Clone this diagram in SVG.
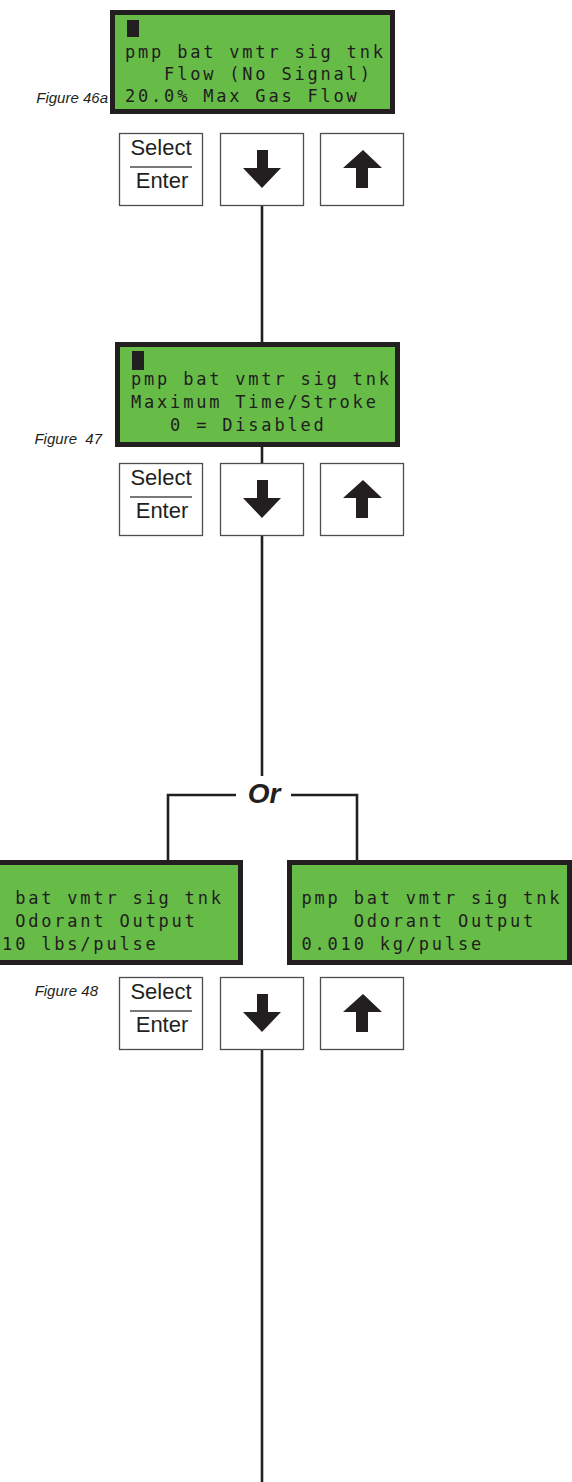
<svg xmlns="http://www.w3.org/2000/svg" width="572" height="1482" viewBox="0 0 572 1482">
<style>
.bg{fill:#ffffff}
.lcd{fill:#67bc47;stroke:#231f20;stroke-width:5}
.lcdt{font-family:"DejaVu Sans Mono","Liberation Mono",monospace;font-size:17px;letter-spacing:2.8px;fill:#1f1d1e;white-space:pre}
.cur{fill:#231f20}
.btn{fill:#ffffff;stroke:#4d4d4f;stroke-width:1.3}
.btnt{font-family:"Liberation Sans",Arial,sans-serif;font-size:22px;fill:#231f20;text-anchor:middle}
.arrow{fill:#231f20}
.fig{font-family:"Liberation Sans",Arial,sans-serif;font-size:15px;font-style:italic;fill:#231f20;white-space:pre}
.wire{stroke:#231f20;stroke-width:2.6;fill:none}
.or{font-family:"Liberation Sans",Arial,sans-serif;font-size:28px;font-weight:bold;font-style:italic;fill:#231f20;text-anchor:middle}
</style>
<defs>
<g id="btnrow">
<rect class="btn" x="119.5" y="0.5" width="83" height="72"/>
<text class="btnt" x="161" y="22">Select</text>
<line x1="130" y1="34" x2="192" y2="34" stroke="#4d4d4f" stroke-width="1.3"/>
<text class="btnt" x="162" y="55">Enter</text>
<rect class="btn" x="220.5" y="0.5" width="83" height="72"/>
<polygon class="arrow" points="257,17 268,17 268,35 281,35 262,55 243,35 257,35"/>
<rect class="btn" x="320.5" y="0.5" width="83" height="72"/>
<polygon class="arrow" points="363,17 382,35 368,35 368,55 356,55 356,35 343,35"/>
</g>
</defs>
<rect class="bg" x="0" y="0" width="572" height="1482"/>

<g id="connectors">
<line class="wire" x1="262" y1="205" x2="262" y2="344"/>
<line class="wire" x1="262" y1="445" x2="262" y2="464"/>
<line class="wire" x1="262" y1="535" x2="262" y2="776"/>
<polyline class="wire" points="236,795 168,795 168,862"/>
<polyline class="wire" points="291,795 357,795 357,862"/>
<line class="wire" x1="262" y1="1048" x2="262" y2="1482"/>
</g>

<g id="display-46a">
<rect class="lcd" x="112.5" y="12.5" width="280" height="99"/>
<rect class="cur" x="127" y="20" width="12" height="17"/>
<text class="lcdt" x="125" y="58">pmp bat vmtr sig tnk</text>
<text class="lcdt" x="125" y="80">   Flow (No Signal)</text>
<text class="lcdt" x="125" y="102">20.0% Max Gas Flow</text>
</g>
<g id="label-46a"><text class="fig" x="108" y="103" text-anchor="end">Figure 46a</text></g>
<g id="buttons-1"><use href="#btnrow" x="0" y="133"/></g>

<g id="display-47">
<rect class="lcd" x="117.5" y="344.5" width="280" height="100"/>
<rect class="cur" x="132" y="351" width="12" height="19"/>
<text class="lcdt" x="131" y="385">pmp bat vmtr sig tnk</text>
<text class="lcdt" x="131" y="408">Maximum Time/Stroke</text>
<text class="lcdt" x="131" y="431">   0 = Disabled</text>
</g>
<g id="label-47"><text class="fig" x="102" y="444" text-anchor="end">Figure  47</text></g>
<g id="buttons-2"><use href="#btnrow" x="0" y="463"/></g>

<g id="or-label"><text class="or" x="264" y="803">Or</text></g>

<g id="display-48-lbs">
<rect class="lcd" x="-45.5" y="862.5" width="286" height="100"/>
<text class="lcdt" x="-37" y="904">pmp bat vmtr sig tnk</text>
<text class="lcdt" x="-37" y="927">    Odorant Output</text>
<text class="lcdt" x="-37" y="950">0.010 lbs/pulse</text>
</g>
<g id="display-48-kg">
<rect class="lcd" x="289.5" y="862.5" width="280" height="100"/>
<text class="lcdt" x="301.5" y="904">pmp bat vmtr sig tnk</text>
<text class="lcdt" x="301.5" y="927">    Odorant Output</text>
<text class="lcdt" x="301.5" y="950">0.010 kg/pulse</text>
</g>
<g id="label-48"><text class="fig" x="98" y="996" text-anchor="end">Figure 48</text></g>
<g id="buttons-3"><use href="#btnrow" x="0" y="977"/></g>
</svg>
